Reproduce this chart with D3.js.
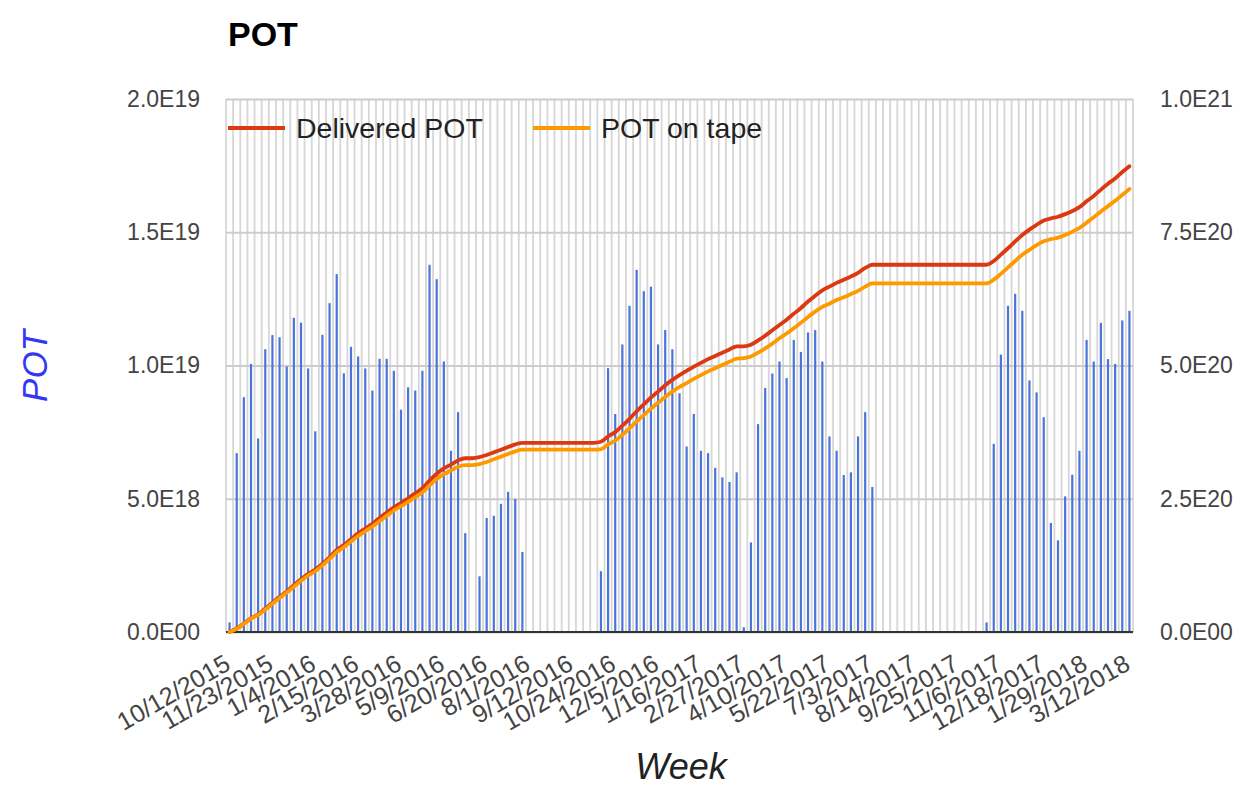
<!DOCTYPE html>
<html><head><meta charset="utf-8">
<script src="https://cdn.jsdelivr.net/npm/d3@7"></script>
<style>body{margin:0;background:#fff} svg{display:block} text{font-family:Arial,"Liberation Sans",sans-serif}</style>
</head><body><svg id="c" width="1257" height="790"></svg>
<script>
const weeks = [
"10/12/2015","10/19/2015","10/26/2015","11/2/2015","11/9/2015","11/16/2015","11/23/2015","11/30/2015","12/7/2015","12/14/2015","12/21/2015","12/28/2015",
"1/4/2016","1/11/2016","1/18/2016","1/25/2016","2/1/2016","2/8/2016","2/15/2016","2/22/2016","2/29/2016","3/7/2016","3/14/2016","3/21/2016","3/28/2016",
"4/4/2016","4/11/2016","4/18/2016","4/25/2016","5/2/2016","5/9/2016","5/16/2016","5/23/2016","5/30/2016","6/6/2016","6/13/2016","6/20/2016",
"6/27/2016","7/4/2016","7/11/2016","7/18/2016","7/25/2016","8/1/2016","8/8/2016","8/15/2016","8/22/2016","8/29/2016","9/5/2016","9/12/2016",
"9/19/2016","9/26/2016","10/3/2016","10/10/2016","10/17/2016","10/24/2016","10/31/2016","11/7/2016","11/14/2016","11/21/2016","11/28/2016","12/5/2016",
"12/12/2016","12/19/2016","12/26/2016","1/2/2017","1/9/2017","1/16/2017","1/23/2017","1/30/2017","2/6/2017","2/13/2017","2/20/2017","2/27/2017",
"3/6/2017","3/13/2017","3/20/2017","3/27/2017","4/3/2017","4/10/2017","4/17/2017","4/24/2017","5/1/2017","5/8/2017","5/15/2017","5/22/2017",
"5/29/2017","6/5/2017","6/12/2017","6/19/2017","6/26/2017","7/3/2017","7/10/2017","7/17/2017","7/24/2017","7/31/2017","8/7/2017","8/14/2017",
"8/21/2017","8/28/2017","9/4/2017","9/11/2017","9/18/2017","9/25/2017","10/2/2017","10/9/2017","10/16/2017","10/23/2017","10/30/2017","11/6/2017",
"11/13/2017","11/20/2017","11/27/2017","12/4/2017","12/11/2017","12/18/2017","12/25/2017","1/1/2018","1/8/2018","1/15/2018","1/22/2018","1/29/2018",
"2/5/2018","2/12/2018","2/19/2018","2/26/2018","3/5/2018","3/12/2018"];

const xTickLabels = ["10/12/2015","11/23/2015","1/4/2016","2/15/2016","3/28/2016","5/9/2016","6/20/2016","8/1/2016","9/12/2016","10/24/2016","12/5/2016",
"1/16/2017","2/27/2017","4/10/2017","5/22/2017","7/3/2017","8/14/2017","9/25/2017","11/6/2017","12/18/2017","1/29/2018","3/12/2018"];

// weekly POT, units of 1E18 (left axis)
const weeklyPOT = [
0.36,6.71,8.81,10.06,7.26,10.61,11.14,11.06,9.96,11.79,11.61,9.89,7.53,11.15,12.34,13.43,9.71,10.70,10.34,9.89,
9.06,10.25,10.25,9.80,8.34,9.18,9.06,9.80,13.78,13.24,10.15,6.80,8.25,3.71,0,2.09,4.28,4.36,4.81,5.26,
4.99,3.00,0,0,0,0,0,0,0,0,0,0,2.28,9.90,8.18,10.79,12.24,13.59,12.79,12.96,
10.79,11.33,10.61,8.96,6.96,8.18,6.80,6.71,6.16,5.80,5.63,5.99,0.18,3.36,7.80,9.16,9.70,10.15,9.53,10.96,
10.51,11.24,11.33,10.15,7.34,6.80,5.89,5.99,7.34,8.25,5.44,0,0,0,0,0,0,0,0,0,
0,0,0,0,0,0,0.36,7.06,10.41,12.24,12.69,12.05,9.44,8.99,8.06,4.09,3.44,5.09,5.90,6.80,
10.96,10.15,11.60,10.24,10.06,11.69,12.05];

// cumulative delivered POT, units of 1E20 (right axis)
const deliveredPOT = [
0.00,0.07,0.16,0.26,0.33,0.44,0.55,0.66,0.76,0.88,0.99,1.09,1.17,1.28,1.40,1.54,1.63,1.74,1.85,1.94,
2.03,2.14,2.24,2.34,2.42,2.51,2.60,2.70,2.84,2.97,3.07,3.14,3.22,3.26,3.26,3.28,3.32,3.37,3.42,3.47,
3.52,3.55,3.55,3.55,3.55,3.55,3.55,3.55,3.55,3.55,3.55,3.55,3.57,3.67,3.75,3.87,4.00,4.14,4.27,4.40,
4.51,4.63,4.73,4.82,4.90,4.98,5.05,5.12,5.18,5.24,5.30,5.36,5.36,5.39,5.47,5.56,5.66,5.76,5.86,5.97,
6.08,6.20,6.31,6.41,6.48,6.55,6.61,6.67,6.74,6.83,6.89,6.89,6.89,6.89,6.89,6.89,6.89,6.89,6.89,6.89,
6.89,6.89,6.89,6.89,6.89,6.89,6.89,6.96,7.08,7.20,7.33,7.45,7.55,7.64,7.72,7.76,7.79,7.84,7.90,7.97,
8.08,8.18,8.30,8.41,8.51,8.63,8.74];

// cumulative POT on tape, units of 1E20 (right axis)
const onTapePOT = [
0.00,0.06,0.15,0.25,0.32,0.42,0.53,0.64,0.74,0.85,0.96,1.06,1.14,1.25,1.37,1.50,1.59,1.70,1.80,1.89,
1.98,2.08,2.18,2.28,2.36,2.44,2.53,2.62,2.75,2.87,2.96,3.03,3.10,3.13,3.13,3.15,3.19,3.24,3.29,3.34,
3.39,3.42,3.42,3.42,3.42,3.42,3.42,3.42,3.42,3.42,3.42,3.42,3.43,3.52,3.59,3.70,3.82,3.95,4.07,4.19,
4.30,4.41,4.51,4.60,4.67,4.75,4.82,4.89,4.95,5.01,5.07,5.13,5.14,5.17,5.24,5.32,5.41,5.51,5.60,5.70,
5.80,5.91,6.01,6.10,6.16,6.23,6.28,6.34,6.40,6.48,6.54,6.54,6.54,6.54,6.54,6.54,6.54,6.54,6.54,6.54,
6.54,6.54,6.54,6.54,6.54,6.54,6.54,6.61,6.72,6.84,6.96,7.08,7.17,7.26,7.33,7.37,7.40,7.45,7.51,7.58,
7.68,7.78,7.89,7.99,8.09,8.20,8.31];

const leftTicks = [0, 5, 10, 15, 20];
const leftTickLabels = ["0.0E00","5.0E18","1.0E19","1.5E19","2.0E19"];
const rightTicks = [0, 2.5, 5, 7.5, 10];
const rightTickLabels = ["0.0E00","2.5E20","5.0E20","7.5E20","1.0E21"];
const seriesNames = ["Delivered POT","POT on tape"];
const seriesColors = ["#dc3912","#ff9900"];

const svg = d3.select("#c");
svg.append("rect").attr("width",1257).attr("height",790).attr("fill","#fff");
const M = {left:226, right:1133, top:99, bottom:632};
const x = d3.scaleBand().domain(weeks).range([M.left, M.right]);
const bw = x.bandwidth();
const cx = w => x(w) + bw/2;
const yL = d3.scaleLinear().domain([0,20]).range([M.bottom, M.top]);
const yR = d3.scaleLinear().domain([0,10]).range([M.bottom, M.top]);

// vertical gridlines (one per week boundary)
const vg = svg.append("g");
vg.selectAll("line").data(weeks.concat(["__end"])).join("line")
  .attr("x1", d => d==="__end" ? M.right : x(d)).attr("x2", d => d==="__end" ? M.right : x(d))
  .attr("y1", M.top).attr("y2", M.bottom)
  .attr("stroke","#d6d6d6").attr("stroke-width",1.8);

// horizontal gridlines
svg.append("g").attr("transform",`translate(${M.left},0)`)
  .call(d3.axisLeft(yL).tickValues(leftTicks).tickSize(-(M.right-M.left)).tickFormat(""))
  .call(g => g.select(".domain").remove())
  .call(g => g.selectAll("line").attr("stroke","#cccccc").attr("stroke-width",2));

// left axis labels
svg.append("g").attr("transform",`translate(${M.left},0)`)
  .call(d3.axisLeft(yL).tickValues(leftTicks).tickSize(0).tickPadding(26).tickFormat((d,i)=>leftTickLabels[i]))
  .call(g => g.select(".domain").remove())
  .call(g => g.selectAll("text").attr("font-size",23).attr("fill","#444").attr("font-family","Arial, Liberation Sans, sans-serif"));

// right axis labels
svg.append("g").attr("transform",`translate(${M.right},0)`)
  .call(d3.axisRight(yR).tickValues(rightTicks).tickSize(0).tickPadding(27).tickFormat((d,i)=>rightTickLabels[i]))
  .call(g => g.select(".domain").remove())
  .call(g => g.selectAll("text").attr("font-size",23).attr("fill","#444").attr("font-family","Arial, Liberation Sans, sans-serif"));

// bars
svg.append("g").selectAll("rect").data(weeks).join("rect")
  .attr("x", (d) => cx(d) - 1.1).attr("width", 2.2)
  .attr("y", (d,i) => yL(weeklyPOT[i])).attr("height", (d,i) => M.bottom - yL(weeklyPOT[i]))
  .attr("fill","#4a74db");

// baseline
svg.append("line").attr("x1",M.left).attr("x2",M.right).attr("y1",M.bottom).attr("y2",M.bottom)
  .attr("stroke","#333").attr("stroke-width",2);

// lines
const line = d3.line().x(d => cx(d.w)).y(d => yR(d.v)).curve(d3.curveMonotoneX);
[deliveredPOT, onTapePOT].forEach((arr, k) => {
  svg.append("path").datum(weeks.map((w,i)=>({w, v:arr[i]})))
    .attr("d", line).attr("fill","none").attr("stroke", seriesColors[k])
    .attr("stroke-width",3.8).attr("stroke-linejoin","round").attr("stroke-linecap","round");
});

// x axis labels
svg.append("g").attr("transform",`translate(0,${M.bottom})`)
  .call(d3.axisBottom(x).tickValues(xTickLabels).tickSize(0).tickFormat(d=>d))
  .call(g => g.select(".domain").remove())
  .call(g => g.selectAll("text").attr("x",0).attr("y",0).attr("dy","0.35em")
      .attr("transform","translate(-2,29) rotate(-30)").style("text-anchor","end")
      .attr("font-size",25).attr("fill","#444").attr("font-family","Arial, Liberation Sans, sans-serif"));

// legend
const legX = [228, 533];
seriesNames.forEach((n,k) => {
  svg.append("line").attr("x1",legX[k]).attr("x2",legX[k]+57).attr("y1",128).attr("y2",128)
    .attr("stroke",seriesColors[k]).attr("stroke-width",3.8);
  svg.append("text").attr("x",legX[k]+68).attr("y",138).attr("font-size",28.5).attr("fill","#222").text(n);
});

// title
svg.append("text").attr("x",228).attr("y",46).attr("font-size",34).attr("font-weight","bold").attr("fill","#000").text("POT");
// y axis title
svg.append("text").attr("transform","translate(47,366) rotate(-90)").attr("text-anchor","middle")
  .attr("font-size",35).attr("font-style","italic").attr("fill","#3535f5").text("POT");
// x axis title
svg.append("text").attr("x",681).attr("y",779).attr("text-anchor","middle")
  .attr("font-size",36).attr("font-style","italic").attr("fill","#222").text("Week");
</script></body></html>
